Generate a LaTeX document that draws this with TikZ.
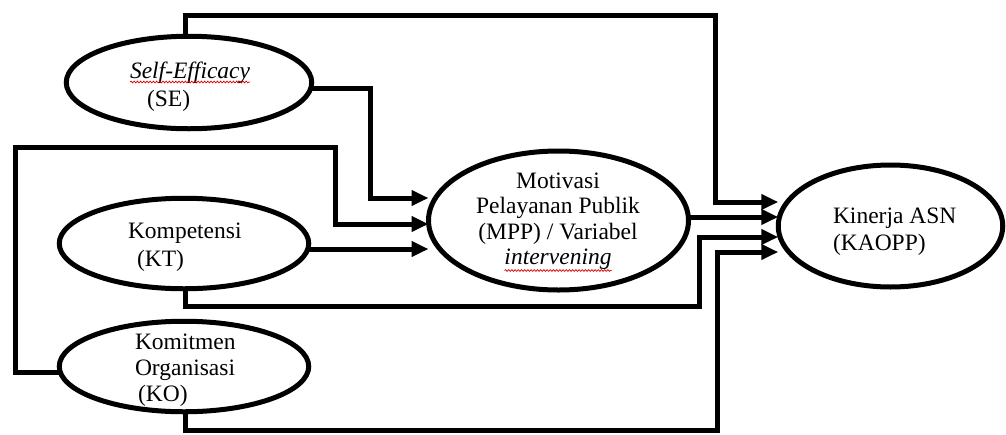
\documentclass[tikz,border=0pt]{standalone}
\usepackage{fontspec}
\setmainfont{Liberation Serif}
\usetikzlibrary{arrows.meta,decorations.pathmorphing,shapes.geometric,calc}

\begin{document}
\begin{tikzpicture}[x=1pt,y=-1pt,
  var/.style={ellipse,draw=black,line width=5pt,inner sep=0pt,outer sep=0pt,fill=white},
  lbl/.style={inner sep=0pt,outer sep=0pt,font=\fontsize{23.5}{25.5}\selectfont},
  conn/.style={line width=5pt,-{Triangle[length=17pt,width=15pt]}},
  wiggle/.style={red!85!black,line width=0.7pt,decorate,
    decoration={snake,amplitude=0.9pt,segment length=3.2pt}}]

\useasboundingbox (0,0) rectangle (1006,434);
\fill[white] (0,0) rectangle (1006,434);

% latent variables
\node[var,minimum width=245.5pt,minimum height=92.5pt] (se) at (189,82.5) {};
\node[var,minimum width=249.5pt,minimum height=90.5pt] (kt) at (184,243.5) {};
\node[var,minimum width=249.5pt,minimum height=90.5pt] (ko) at (184,366.5) {};
\node[var,minimum width=260pt,minimum height=139pt] (mpp) at (558.5,220.5) {};
\node[var,minimum width=224.5pt,minimum height=122pt] (kaopp) at (890.5,226) {};

% labels
\node[lbl,anchor=base west] (se1) at (130,78) {\itshape Self-Efficacy};
\node[lbl,anchor=base west] (se2) at (147,106) {(SE)};
\node[lbl,anchor=base west] (kt1) at (128,238) {Kompetensi};
\node[lbl,anchor=base west] (kt2) at (137,266) {(KT)};
\node[lbl,anchor=base west] (ko1) at (135,349) {Komitmen};
\node[lbl,anchor=base west] (ko2) at (135,375) {Organisasi};
\node[lbl,anchor=base west] (ko3) at (138,401) {(KO)};
\node[lbl,anchor=base] (mp1) at (558,188) {Motivasi};
\node[lbl,anchor=base] (mp2) at (558,213.5) {Pelayanan Publik};
\node[lbl,anchor=base] (mp3) at (558,239) {(MPP) / Variabel};
\node[lbl,anchor=base] (mp4) at (558,264.5) {\itshape intervening};
\node[lbl,anchor=base west] (ka1) at (833,223) {Kinerja ASN};
\node[lbl,anchor=base west] (ka2) at (833,250) {(KAOPP)};

% spell-check underlines
\draw[wiggle] ($(se1.base west)+(0,4)$) -- ($(se1.base east)+(0,4)$);
\draw[wiggle] ($(mp4.base west)+(0,6)$) -- ($(mp4.base east)+(0,6)$);

% paths into MPP
\draw[conn] (se.east |- 0,88) -| (370,198) -- (mpp.west |- 0,198);
\draw[conn] (ko.west |- 0,372) -| (15,147) -| (335,224) -- (mpp.west |- 0,224);
\draw[conn] (kt.east |- 0,249) -- (mpp.west |- 0,249);

% paths into KAOPP
\draw[conn] (se.north -| 185,0) |- (715,15) |- (kaopp.west |- 0,202);
\draw[conn] (mpp.east |- 0,217) -- (kaopp.west |- 0,217);
\draw[conn] (kt.south -| 185,0) |- (699,306) |- (kaopp.west |- 0,237);
\draw[conn] (ko.south -| 185,0) |- (717,430) |- (kaopp.west |- 0,252);
\end{tikzpicture}
\end{document}
